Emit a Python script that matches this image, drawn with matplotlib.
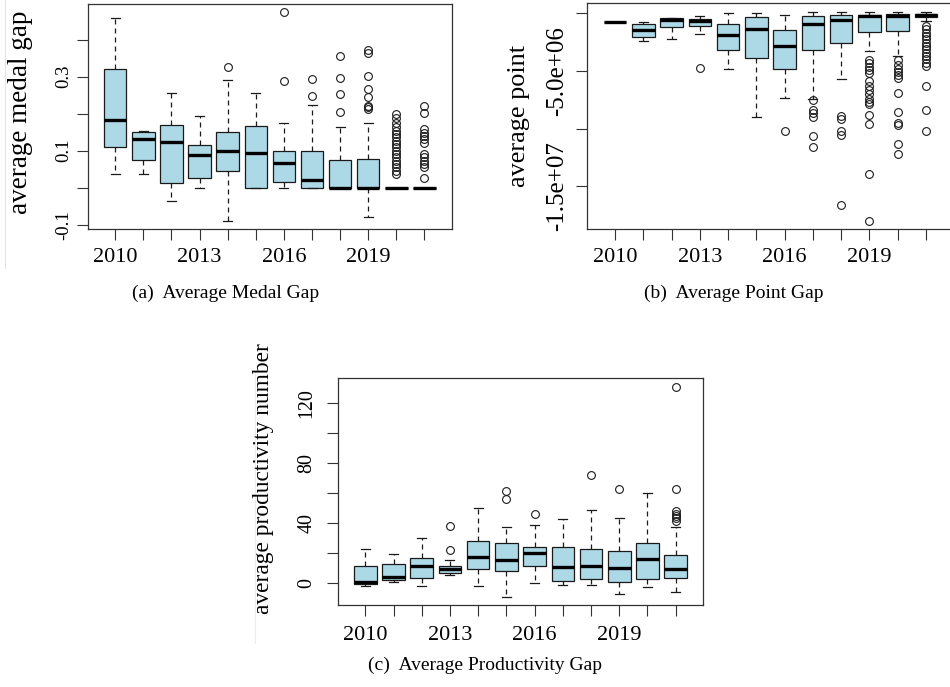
import matplotlib
matplotlib.use("Agg")
import matplotlib.pyplot as plt
from matplotlib.lines import Line2D

plt.rcParams['font.family'] = ['Liberation Serif', 'DejaVu Serif']

W, H = 950, 687

# ---------------- data ----------------
years = [2010, 2011, 2012, 2013, 2014, 2015, 2016, 2017, 2018, 2019, 2020, 2021]
year_labels = ["2010", "", "", "2013", "", "", "2016", "", "", "2019", "", ""]

# (a) Average Medal Gap
medal_whislo = [0.037, 0.037, -0.036, 0.0, -0.090, 0.0, 0.0, 0.0, 0.0, -0.079, 0.0, 0.0]
medal_q1 = [0.111, 0.075, 0.013, 0.025, 0.046, 0.0, 0.014, 0.0, 0.0, 0.0, 0.0, 0.0]
medal_med = [0.183, 0.131, 0.123, 0.087, 0.099, 0.093, 0.066, 0.021, 0.0, 0.0, 0.0, 0.0]
medal_q3 = [0.320, 0.151, 0.169, 0.114, 0.151, 0.168, 0.100, 0.098, 0.076, 0.078, 0.0, 0.0]
medal_whishi = [0.458, 0.154, 0.257, 0.195, 0.291, 0.255, 0.176, 0.224, 0.164, 0.174, 0.0, 0.0]
medal_fliers = [
    [], [], [], [], [0.325], [], [0.474, 0.289], [0.293, 0.249],
    [0.356, 0.297, 0.252, 0.205],
    [0.372, 0.363, 0.303, 0.268, 0.244, 0.221, 0.218, 0.214],
    [0.199, 0.187, 0.176, 0.163, 0.154, 0.145, 0.136, 0.127, 0.118, 0.109,
     0.100, 0.091, 0.082, 0.073, 0.064, 0.055, 0.046, 0.037],
    [0.221, 0.201, 0.158, 0.149, 0.140, 0.131, 0.122, 0.091, 0.082, 0.073,
     0.064, 0.055, 0.026],
]
medal_yticks = [-0.1, 0.0, 0.1, 0.2, 0.3, 0.4]
medal_yticklabels = ["-0.1", "", "0.1", "", "0.3", ""]

# (b) Average Point Gap
point_whislo = [-0.751e6, -2.370e6, -2.254e6, -1.792e6, -4.827e6, -8.988e6,
                -7.370e6, -7.428e6, -5.723e6, -3.266e6, -3.699e6, -0.636e6]
point_q1 = [-0.751e6, -2.081e6, -1.185e6, -1.098e6, -3.208e6, -3.902e6,
            -4.827e6, -3.208e6, -2.601e6, -1.647e6, -1.561e6, -0.347e6]
point_med = [-0.751e6, -1.445e6, -0.578e6, -0.665e6, -1.908e6, -1.387e6,
             -2.803e6, -0.896e6, -0.578e6, -0.202e6, -0.202e6, -0.173e6]
point_q3 = [-0.751e6, -0.954e6, -0.434e6, -0.520e6, -0.925e6, -0.347e6,
            -1.416e6, -0.260e6, -0.173e6, -0.116e6, -0.087e6, -0.087e6]
point_whishi = [-0.751e6, -0.751e6, -0.376e6, -0.231e6, 0.0, 0.0,
                -0.173e6, 0.116e6, 0.116e6, 0.116e6, 0.116e6, 0.116e6]
point_fliers = [
    [], [], [], [-4.769e6], [], [], [-10.202e6],
    [-7.515e6, -8.382e6, -8.671e6, -9.017e6, -10.636e6, -11.561e6],
    [-8.902e6, -9.191e6, -10.202e6, -10.549e6, -16.647e6],
    [-4.046e6, -4.335e6, -4.624e6, -4.913e6, -5.202e6, -5.867e6, -6.272e6,
     -6.647e6, -7.023e6, -7.399e6, -7.659e6, -7.861e6, -8.844e6, -9.624e6,
     -13.931e6, -17.977e6],
    [-4.046e6, -4.480e6, -4.827e6, -5.058e6, -5.347e6, -5.578e6, -6.936e6,
     -8.526e6, -9.480e6, -9.653e6, -11.329e6, -12.225e6],
    [-1.098e6, -1.387e6, -1.676e6, -1.965e6, -2.254e6, -2.543e6, -2.832e6,
     -3.121e6, -3.410e6, -3.699e6, -3.988e6, -4.277e6, -4.566e6, -6.301e6,
     -8.382e6, -10.202e6],
]
point_yticks = [0.0, -5.0e6, -1.0e7, -1.5e7]
point_yticklabels = ["", "-5.0e+06", "", "-1.5e+07"]

# (c) Average Productivity Gap
prod_whislo = [-2.0, 0.7, -2.0, 5.1, -2.0, -9.1, 0.0, -1.3, -1.6, -7.6, -2.9, -6.0]
prod_q1 = [-0.7, 1.8, 3.3, 6.5, 9.4, 8.0, 11.1, 1.6, 2.7, 0.9, 2.5, 3.6]
prod_med = [0.9, 4.2, 11.6, 9.1, 17.4, 15.4, 20.3, 10.7, 11.6, 10.0, 15.8, 9.6]
prod_q3 = [11.6, 12.5, 16.5, 11.4, 28.3, 26.5, 24.3, 24.1, 22.9, 21.2, 26.5, 18.7]
prod_whishi = [22.7, 19.2, 29.9, 15.4, 49.9, 37.4, 39.0, 42.8, 48.6, 43.7, 60.4, 37.4]
prod_fliers = [
    [], [], [], [21.8, 38.3], [], [61.5, 56.4], [45.9], [], [72.0], [62.6], [],
    [131.2, 63.1, 48.1, 46.3, 44.8, 43.2, 41.7],
]
prod_yticks = [0, 20, 40, 60, 80, 100, 120]
prod_yticklabels = ["0", "", "40", "", "80", "", "120"]

# ---------------- drawing ----------------
fig = plt.figure(figsize=(W / 100, H / 100), dpi=100)


def px_axes(left, top, right, bottom):
    return fig.add_axes([left / W, 1 - bottom / H, (right - left) / W, (bottom - top) / H])


def draw_panel(ax, lo, q1, med, q3, hi, fliers, ylim, yticks, yticklabels,
               ytick_fs, ytick_pad, xtick_pad):
    stats = []
    for i in range(len(years)):
        stats.append(dict(whislo=lo[i], q1=q1[i], med=med[i], q3=q3[i],
                          whishi=hi[i], fliers=fliers[i], label=str(years[i])))
    pos = list(range(1, len(years) + 1))
    ax.bxp(stats, positions=pos, widths=0.8, capwidths=0.32, patch_artist=True,
           boxprops=dict(facecolor='#ADD8E6', edgecolor='#1a1a1a', linewidth=0.9),
           whiskerprops=dict(color='#1a1a1a', linewidth=0.9, linestyle=(0, (4, 3.2))),
           capprops=dict(color='#1a1a1a', linewidth=0.9),
           medianprops=dict(color='black', linewidth=2.4, solid_capstyle='butt'),
           flierprops=dict(marker='o', markerfacecolor='none', markeredgecolor='#1a1a1a',
                           markersize=5.6, markeredgewidth=0.8, linestyle='none'))
    ax.set_xlim(0.02, len(years) + 0.98)
    ax.set_ylim(*ylim)
    ax.set_xticks(pos)
    ax.set_xticklabels(year_labels)
    ax.set_yticks(yticks)
    ax.set_yticklabels(yticklabels, rotation=90, va='center')
    ax.tick_params(axis='x', length=7.9, width=0.8, color='#333333', pad=xtick_pad,
                   labelsize=16)
    ax.tick_params(axis='y', length=7.9, width=0.8, color='#333333', pad=ytick_pad,
                   labelsize=ytick_fs)
    for sp in ax.spines.values():
        sp.set_color('#333333')
        sp.set_linewidth(0.9)


ax_a = px_axes(87.7, 4.0, 452.0, 229.3)
draw_panel(ax_a, medal_whislo, medal_q1, medal_med, medal_q3, medal_whishi, medal_fliers,
           (-0.1126, 0.4966), medal_yticks, medal_yticklabels, 13.5, 3.1, 5.5)

ax_b = px_axes(587.3, 3.3, 953.7, 229.3)
draw_panel(ax_b, point_whislo, point_q1, point_med, point_q3, point_whishi, point_fliers,
           (-18.73e6, 0.87e6), point_yticks, point_yticklabels, 18.0, 6.0, 5.5)

ax_c = px_axes(337.7, 378.3, 703.3, 605.0)
draw_panel(ax_c, prod_whislo, prod_q1, prod_med, prod_q3, prod_whishi, prod_fliers,
           (-14.7, 136.8), prod_yticks, prod_yticklabels, 14.4, 7.3, 7.0)

# axis titles
fig.text(21 / W, 1 - 112 / H, "average medal gap", rotation=90, ha='center', va='center',
         fontsize=19.5)
fig.text(519 / W, 1 - 116 / H, "average point", rotation=90, ha='center', va='center',
         fontsize=18.9)
fig.text(264 / W, 1 - 479 / H, "average productivity number", rotation=90, ha='center',
         va='center', fontsize=16.8)

# sub-captions
fig.text(226 / W, 1 - 293 / H, "(a)  Average Medal Gap", ha='center', va='center', fontsize=14)
fig.text(734 / W, 1 - 293 / H, "(b)  Average Point Gap", ha='center', va='center', fontsize=14)
fig.text(485 / W, 1 - 665 / H, "(c)  Average Productivity Gap", ha='center', va='center',
         fontsize=14)

# faint sub-figure borders
fig.add_artist(Line2D([5 / W, 5 / W], [1.0, 1 - 268 / H], color='#e2e2e2', linewidth=0.8))
fig.add_artist(Line2D([255 / W, 255 / W], [1 - 372 / H, 1 - 643 / H], color='#ececec',
                      linewidth=0.8))

fig.savefig("out.png", dpi=100)
